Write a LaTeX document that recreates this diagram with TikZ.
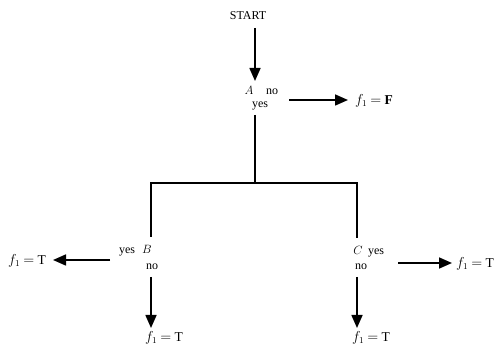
\documentclass[tikz,border=0pt]{standalone}
\usepackage{fontspec}
\setmainfont{Liberation Serif}
\usetikzlibrary{arrows.meta,calc}
\tikzset{
  lbl/.style={inner sep=0pt, anchor=base, font=\fontsize{12}{14}\selectfont},
  res/.style={inner sep=0pt, anchor=base, font=\fontsize{13.5}{15}\selectfont},
  conn/.style={line width=1.6pt},
  arr/.style={conn, -{Triangle[length=13pt,width=11pt]}},
}
\newcommand{\fval}[1]{$f_{1}\mkern-1mu=\mkern-1mu#1$}
\begin{document}
\begin{tikzpicture}[x=1pt,y=-1pt]
\useasboundingbox (0,0) rectangle (496,347);
% top
\node[lbl] (start) at (248,19.5) {START};
\node[lbl] (A) at (249,95) {$A$};
\node[lbl] (noA) at (272,95) {no};
\node[lbl] (yesA) at (260,108) {yes};
\node[res] (fF) at (374,104.5) {\fval{\mathbf{F}}};
\coordinate (s0) at (255,28);
\coordinate (s1) at (255,81);
\coordinate (aout) at (289,100);
\coordinate (aend) at (348,100);
\coordinate (atop) at (255,115);
\coordinate (J) at (255,183);
% left branch
\node[lbl] (yesB) at (127,254) {yes};
\node[lbl] (B) at (147,254) {$B$};
\node[lbl] (noB) at (152,270) {no};
\node[res] (fT1) at (27,264.5) {\fval{\mathrm{T}}};
\node[res] (fT2) at (164,341.5) {\fval{\mathrm{T}}};
\coordinate (bl) at (151,237);
\coordinate (bout) at (110,260);
\coordinate (bend) at (53,260);
\coordinate (bdown) at (151,277);
\coordinate (bdend) at (151,328);
% right branch
\node[lbl] (C) at (358,255) {$C$};
\node[lbl] (yesC) at (376,255) {yes};
\node[lbl] (noC) at (361,270) {no};
\node[res] (fT3) at (475,267.5) {\fval{\mathrm{T}}};
\node[res] (fT4) at (371,341.5) {\fval{\mathrm{T}}};
\coordinate (cr) at (357,238);
\coordinate (cout) at (398,263);
\coordinate (cend) at (452,263);
\coordinate (cdown) at (357,277);
\coordinate (cdend) at (357,328);
% connectors
\draw[arr] (s0) -- (s1);
\draw[arr] (aout) -- (aend);
\draw[conn] (atop) -- (J);
\draw[conn] (J) -| (bl);
\draw[conn] (J) -| (cr);
\draw[arr] (bout) -- (bend);
\draw[arr] (bdown) -- (bdend);
\draw[arr] (cout) -- (cend);
\draw[arr] (cdown) -- (cdend);
\end{tikzpicture}
\end{document}
